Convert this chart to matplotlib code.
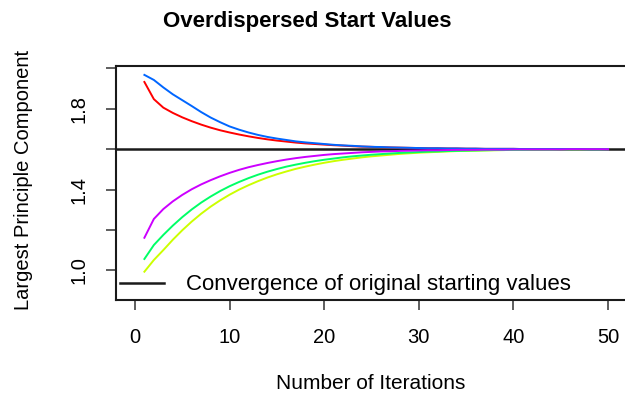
import matplotlib
matplotlib.use("Agg")
import matplotlib.pyplot as plt
import numpy as np

plt.rcParams["font.family"] = ["Liberation Sans", "DejaVu Sans"]

# iterations and the largest principal component for five overdispersed chains
iters = np.arange(1, 51)
chain_red = [1.933, 1.848, 1.806, 1.780, 1.758, 1.739, 1.722, 1.707, 1.694, 1.683,
             1.673, 1.664, 1.656, 1.649, 1.643, 1.638, 1.633, 1.629, 1.626, 1.623,
             1.620, 1.618, 1.615, 1.613, 1.612, 1.610, 1.609, 1.608, 1.607, 1.606,
             1.605, 1.605, 1.604, 1.604, 1.603, 1.603, 1.602, 1.602, 1.602, 1.602,
             1.601, 1.601, 1.601, 1.601, 1.601, 1.601, 1.600, 1.600, 1.600, 1.600]
chain_blue = [1.968, 1.943, 1.906, 1.872, 1.843, 1.814, 1.784, 1.757, 1.734, 1.713,
              1.697, 1.683, 1.671, 1.661, 1.653, 1.646, 1.639, 1.634, 1.630, 1.626,
              1.622, 1.619, 1.617, 1.614, 1.612, 1.611, 1.609, 1.608, 1.607, 1.606,
              1.605, 1.605, 1.604, 1.604, 1.603, 1.603, 1.602, 1.602, 1.602, 1.602,
              1.601, 1.601, 1.601, 1.601, 1.601, 1.601, 1.601, 1.600, 1.600, 1.600]
chain_purple = [1.162, 1.255, 1.304, 1.342, 1.374, 1.402, 1.426, 1.447, 1.466, 1.483,
                1.498, 1.511, 1.522, 1.532, 1.541, 1.549, 1.556, 1.562, 1.567, 1.572,
                1.576, 1.579, 1.582, 1.585, 1.587, 1.589, 1.590, 1.592, 1.593, 1.594,
                1.595, 1.595, 1.596, 1.597, 1.597, 1.597, 1.598, 1.598, 1.598, 1.599,
                1.599, 1.599, 1.599, 1.599, 1.599, 1.600, 1.600, 1.600, 1.600, 1.600]
chain_green = [1.057, 1.126, 1.176, 1.222, 1.264, 1.302, 1.336, 1.366, 1.393, 1.417,
               1.438, 1.457, 1.474, 1.489, 1.502, 1.514, 1.524, 1.533, 1.541, 1.548,
               1.554, 1.560, 1.565, 1.569, 1.573, 1.576, 1.579, 1.582, 1.584, 1.586,
               1.588, 1.589, 1.591, 1.592, 1.593, 1.594, 1.595, 1.596, 1.596, 1.597,
               1.597, 1.598, 1.598, 1.598, 1.599, 1.599, 1.599, 1.599, 1.599, 1.600]
chain_yellow = [0.994, 1.052, 1.101, 1.152, 1.199, 1.242, 1.281, 1.316, 1.347, 1.375,
                1.400, 1.422, 1.442, 1.460, 1.476, 1.490, 1.503, 1.514, 1.524, 1.533,
                1.541, 1.548, 1.554, 1.560, 1.565, 1.569, 1.573, 1.577, 1.580, 1.583,
                1.585, 1.587, 1.589, 1.591, 1.592, 1.593, 1.594, 1.595, 1.596, 1.597,
                1.597, 1.598, 1.598, 1.598, 1.599, 1.599, 1.599, 1.599, 1.599, 1.600]
target = 1.6

chains = [chain_red, chain_yellow, chain_green, chain_blue, chain_purple]
colors = ["#FF0000", "#CCFF00", "#00FF66", "#0066FF", "#CC00FF"]

fig = plt.figure(figsize=(6.25, 3.97), dpi=100)
ax = fig.add_axes([116 / 625, 97 / 397, 511 / 625, 234 / 397])

ax.axhline(target, color="#1a1a1a", lw=1.8, label="Convergence of original starting values")
for vals, c in zip(chains, colors):
    ax.plot(iters, vals, color=c, lw=1.4)

ax.set_xlim(-2, 52)
ax.set_ylim(0.854, 2.012)
ax.set_xticks([0, 10, 20, 30, 40, 50])
ax.set_yticks([1.0, 1.2, 1.4, 1.6, 1.8, 2.0])
ax.set_yticklabels(["1.0", "", "1.4", "", "1.8", ""], rotation=90, va="center")
ax.tick_params(axis="both", length=7, width=1.1, color="#333333", labelsize=14.5)
ax.tick_params(axis="x", pad=13)
ax.tick_params(axis="y", pad=12.5)
for s in ax.spines.values():
    s.set_linewidth(1.5)
    s.set_color("#1a1a1a")

ax.legend(loc="lower left", bbox_to_anchor=(-0.032, -0.066), frameon=False,
          fontsize=16, handlelength=2.0, handletextpad=1.0)

fig.text(307 / 625, 1 - 27 / 397, "Overdispersed Start Values", ha="center",
         va="baseline", fontsize=16, fontweight="bold")
fig.text(371 / 625, 1 - 389 / 397, "Number of Iterations", ha="center",
         va="baseline", fontsize=15)
fig.text(33 / 625, 1 - 180 / 397, "Largest Principle Component", ha="right",
         va="center", rotation=90, fontsize=14.5)

fig.savefig("out.png", dpi=100)
